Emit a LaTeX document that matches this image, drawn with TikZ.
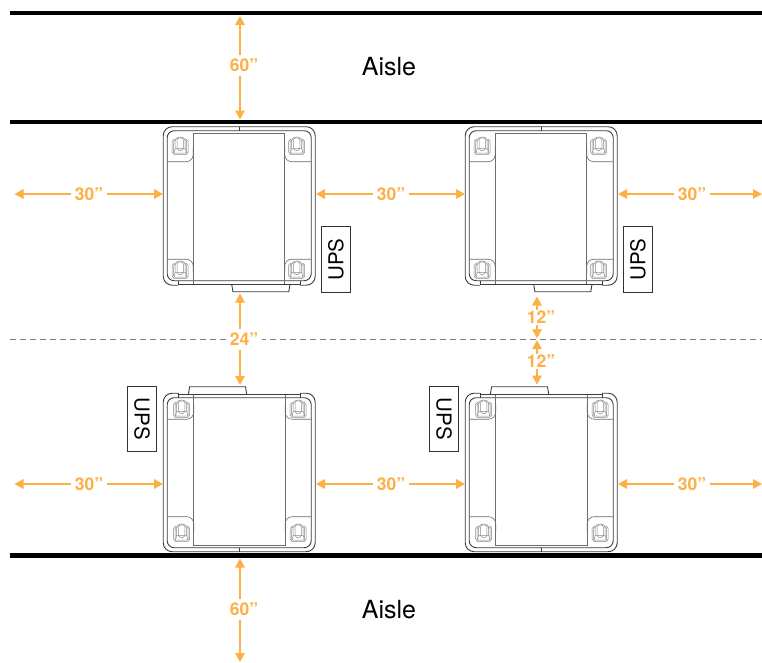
\documentclass[tikz,border=0pt]{standalone}
\usepackage{fontspec}
\setmainfont{TeX Gyre Heros}
\usetikzlibrary{arrows.meta}
\definecolor{dimorange}{HTML}{FDB045}
\definecolor{cabline}{HTML}{3C3C3C}
\tikzset{
  x=1pt,y=-1pt,
  aisleline/.style={line width=4.2pt,black},
  divider/.style={line width=0.6pt,black!50,dash pattern=on 6pt off 4pt},
  dimline/.style={line width=1.7pt,dimorange,-{Triangle[length=9pt,width=9.5pt]}},
  dimtext/.style={font=\bfseries\fontsize{17.5}{17.5}\selectfont,text=dimorange,inner sep=4pt},
  aisletext/.style={font=\fontsize{25}{25}\selectfont},
  upsbox/.style={draw=black!80,line width=0.7pt,fill=white,minimum width=65.5pt,minimum height=29pt,inner sep=0pt,font=\fontsize{20.5}{20.5}\selectfont},
  cabthick/.style={draw=cabline,line width=0.9pt},
  cabthin/.style={draw=cabline!75,line width=0.6pt},
  castline/.style={draw=cabline!60,line width=0.5pt},
  caster/.pic={
    \draw[castline] (-6,-6.5) -- (6,-6.5) -- (8,-4.5) -- (8,6.5) -- (6,9) -- (-6,9) -- (-8,6.5) -- (-8,-4.5) -- cycle;
    \draw[castline] (-5.8,-5) -- (5.8,-5) -- (6.5,-3.5) -- (6.5,6) -- (5.2,7.5) -- (-5.2,7.5) -- (-6.5,6) -- (-6.5,-3.5) -- cycle;
    \draw[castline,fill=white] (-5,3) -- (-5,-5) .. controls (-5,-10) and (5,-10) .. (5,-5) -- (5,3) -- cycle;
    \draw[castline] (-3.2,3) -- (-3.2,-6) .. controls (-3.2,-8.5) and (3.2,-8.5) .. (3.2,-6) -- (3.2,3);
    \draw[castline] (-5,3) -- (-6.5,7.5) (5,3) -- (6.5,7.5) (-3,3) .. controls (-2,5.5) and (2,5.5) .. (3,3);
  },
  cabinet/.pic={
    \draw[cabthick,rounded corners=9pt] (-61,-54) -- (-76,-54) -- (-76,-212.5) -- (76,-212.5) -- (76,-54) -- (61,-54);
    \draw[cabthick] (-61,-54) -- (-61,-58.5) (61,-54) -- (61,-58.5);
    \draw[cabthick,rounded corners=7pt] (-72,-58.5) rectangle (72,-208.5);
    \draw[cabthick] (0,-212.5) -- (0,-208.5);
    \draw[cabthin] (-46,-206) rectangle (45.5,-55);
    \draw[cabthick] (-61,-55) -- (61,-55);
    \draw[cabthick] (-7.5,-55) -- (-6.3,-47.5) -- (49.6,-47.5) -- (50.8,-55);
    \draw[cabthin,rounded corners=7pt] (-72,-177.5) -- (-46,-177.5) -- (-46,-192);
    \draw[cabthin,rounded corners=7pt] (72,-177.5) -- (45.5,-177.5) -- (45.5,-192);
    \draw[cabthin,rounded corners=7pt] (-72,-80) -- (-46,-80) -- (-46,-66);
    \draw[cabthin,rounded corners=7pt] (72,-80) -- (45.5,-80) -- (45.5,-66);
    \pic at (-59,-193.5) {caster};
    \pic at (57.5,-193.5) {caster};
    \pic at (-59,-69.5) {caster};
    \pic at (57.5,-69.5) {caster};
  }
}
\begin{document}
\begin{tikzpicture}
\useasboundingbox (0,0) rectangle (762,662);
\fill[white] (0,0) rectangle (762,662);
% aisle walls
\coordinate (w1a) at (9.5,13); \coordinate (w1b) at (762,13);
\coordinate (w2a) at (9.5,122); \coordinate (w2b) at (762,122);
\coordinate (w3a) at (9.5,555.5); \coordinate (w3b) at (762,555.5);
\coordinate (da) at (10,339.5); \coordinate (db) at (762,339.5);
\draw[aisleline] (w1a) -- (w1b);
\draw[aisleline] (w2a) -- (w2b);
\draw[aisleline] (w3a) -- (w3b);
\draw[divider] (da) -- (db);
\node[aisletext] (aisletop) at (389,66.5) {Aisle};
\node[aisletext] (aislebot) at (389,609.5) {Aisle};
% cabinets
\pic at (239.2,339.2) {cabinet};
\pic at (541.2,339.2) {cabinet};
\pic[rotate=180] at (239.2,339.2) {cabinet};
\pic[rotate=180] at (541.2,339.2) {cabinet};
% UPS units
\node[upsbox,rotate=90] (ups1) at (336,259.5) {UPS};
\node[upsbox,rotate=90] (ups2) at (638,259.5) {UPS};
\node[upsbox,rotate=-90] (ups3) at (142.2,418.7) {UPS};
\node[upsbox,rotate=-90] (ups4) at (444.2,418.7) {UPS};
% vertical dimensions
\node[dimtext] (v60t) at (244,65.5) {60”};
\coordinate (v60ta) at (240,16); \coordinate (v60tb) at (240,119.5);
\draw[dimline] (v60t.north -| v60ta) -- (v60ta);
\draw[dimline] (v60t.south -| v60tb) -- (v60tb);
\node[dimtext] (v60b) at (244,609.5) {60”};
\coordinate (v60ba) at (240,558.5); \coordinate (v60bb) at (240,662);
\draw[dimline] (v60b.north -| v60ba) -- (v60ba);
\draw[dimline] (v60b.south -| v60bb) -- (v60bb);
\node[dimtext,fill=white] (v24) at (244,339.5) {24”};
\coordinate (v24a) at (240,293.5); \coordinate (v24b) at (240,385);
\draw[dimline] (v24.north -| v24a) -- (v24a);
\draw[dimline] (v24.south -| v24b) -- (v24b);
\node[dimtext,inner sep=1pt] (v12a) at (541,317.5) {12”};
\node[dimtext,inner sep=1pt] (v12b) at (541,361.5) {12”};
\coordinate (t1) at (537,296.5); \coordinate (t2) at (537,338.3);
\coordinate (t3) at (537,340.2); \coordinate (t4) at (537,384.5);
\draw[dimline] (v12a.north -| t1) -- (t1);
\draw[dimline] (v12a.south -| t2) -- (t2);
\draw[dimline] (v12b.north -| t3) -- (t3);
\draw[dimline] (v12b.south -| t4) -- (t4);
% horizontal dimensions
\foreach \n/\yy in {a/194,b/484}{
  \node[dimtext] (h1\n) at (89,\yy) {30”};
  \node[dimtext] (h2\n) at (391,\yy) {30”};
  \node[dimtext] (h3\n) at (692,\yy) {30”};
  \coordinate (e1\n) at (14.5,\yy); \coordinate (e2\n) at (163,\yy);
  \coordinate (e3\n) at (316,\yy); \coordinate (e4\n) at (465,\yy);
  \coordinate (e5\n) at (618,\yy); \coordinate (e6\n) at (762,\yy);
  \draw[dimline] (h1\n) -- (e1\n);
  \draw[dimline] (h1\n) -- (e2\n);
  \draw[dimline] (h2\n) -- (e3\n);
  \draw[dimline] (h2\n) -- (e4\n);
  \draw[dimline] (h3\n) -- (e5\n);
  \draw[dimline] (h3\n) -- (e6\n);
}
\end{tikzpicture}
\end{document}
